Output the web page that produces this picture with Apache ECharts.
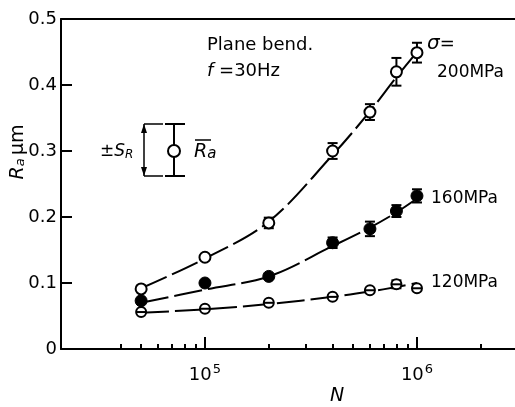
<!DOCTYPE html>
<html>
<head>
<meta charset="utf-8">
<script src="https://cdn.jsdelivr.net/npm/echarts@6/dist/echarts.min.js"></script>
<style>
  html, body { margin: 0; padding: 0; background: #fff; }
  #chart { width: 515px; height: 407px; }
</style>
</head>
<body>
<div id="chart"></div>
<script>
// cycles N of the measured points
const cycles = [5e4, 1e5, 2e5, 4e5, 6e5, 8e5, 1e6];
// mean Ra (um) and scatter +-S_R
const ra200 = [0.091, 0.139, 0.191, 0.300, 0.359, 0.420, 0.449];
const sd200 = [0, 0, 0.008, 0.012, 0.012, 0.021, 0.015];
const ra160 = [0.073, 0.100, 0.110, 0.161, 0.182, 0.209, 0.232];
const sd160 = [0, 0, 0, 0.008, 0.011, 0.009, 0.010];
const ra120 = [0.056, 0.061, 0.070, 0.079, 0.089, 0.098, 0.092];
const sd120 = [0, 0, 0, 0, 0, 0.006, 0];

// fitted curves as drawn on the figure
const fitN = [5e4, 1e5, 2e5, 4e5, 6e5, 8e5, 1e6];
const fit200 = [0.092, 0.137, 0.193, 0.294, 0.360, 0.412, 0.450];
const fit160 = [0.070, 0.090, 0.110, 0.156, 0.184, 0.207, 0.228];
const fit120 = [0.055, 0.060, 0.068, 0.079, 0.087, 0.094, 0.100];

const majorTicks = [1e5, 1e6];
const minorTicks = [4e4, 5e4, 6e4, 7e4, 8e4, 9e4, 2e5, 3e5, 4e5, 5e5, 6e5, 7e5, 8e5, 9e5, 2e6];

const FONT = 'DejaVu Sans';
const INK = '#000';

const myChart = echarts.init(document.getElementById('chart'), null, { renderer: 'canvas' });

function pairs(xs, ys) {
  return xs.map((x, i) => [x, ys[i]]);
}

function fitLine(data) {
  return {
    type: 'line',
    xAxisIndex: 0,
    data: pairs(fitN, data),
    smooth: 0.35,
    showSymbol: false,
    silent: true,
    z: 2,
    lineStyle: { color: INK, width: 2, type: [28, 6] }
  };
}

function errBars(ys, sds) {
  const d = cycles.map((x, i) => [x, ys[i], sds[i]]).filter(p => p[2] > 0);
  return {
    type: 'custom',
    xAxisIndex: 0,
    z: 3,
    silent: true,
    data: d,
    renderItem: function (params, api) {
      const top = api.coord([api.value(0), api.value(1) + api.value(2)]);
      const bot = api.coord([api.value(0), api.value(1) - api.value(2)]);
      const w = 5;
      const st = { stroke: INK, lineWidth: 2 };
      return {
        type: 'group',
        children: [
          { type: 'line', shape: { x1: top[0], y1: top[1], x2: bot[0], y2: bot[1] }, style: st },
          { type: 'line', shape: { x1: top[0] - w, y1: top[1], x2: top[0] + w, y2: top[1] }, style: st },
          { type: 'line', shape: { x1: bot[0] - w, y1: bot[1], x2: bot[0] + w, y2: bot[1] }, style: st }
        ]
      };
    }
  };
}

const option = {
  backgroundColor: '#fff',
  animation: false,
  grid: { left: 61, right: 0, top: 19, bottom: 58 },
  xAxis: [
    {
      type: 'log',
      logBase: 10,
      min: 20940,
      max: 2.9e6,
      axisLine: { show: true, lineStyle: { color: INK, width: 2 } },
      axisTick: { show: true, inside: true, length: 12, customValues: majorTicks, lineStyle: { color: INK, width: 2 } },
      axisLabel: {
        show: true,
        customValues: majorTicks,
        margin: 14,
        formatter: function (v) {
          return '{b|10}{s|' + Math.round(Math.log10(v)) + '}';
        },
        rich: {
          b: { fontFamily: FONT, fontSize: 18, color: INK },
          s: { fontFamily: FONT, fontSize: 13, color: INK, padding: [0, 0, 12, 1] }
        }
      },
      splitLine: { show: false },
      minorTick: { show: false },
      minorSplitLine: { show: false }
    },
    {
      type: 'log',
      logBase: 10,
      min: 20940,
      max: 2.9e6,
      position: 'bottom',
      axisLine: { show: false },
      axisTick: { show: true, inside: true, length: 5, customValues: minorTicks, lineStyle: { color: INK, width: 2 } },
      axisLabel: { show: false },
      splitLine: { show: false }
    },
    {
      type: 'log',
      logBase: 10,
      min: 20940,
      max: 2.9e6,
      position: 'top',
      axisLine: { show: true, lineStyle: { color: INK, width: 2 } },
      axisTick: { show: false },
      axisLabel: { show: false },
      splitLine: { show: false }
    }
  ],
  yAxis: {
    type: 'value',
    min: 0,
    max: 0.5,
    interval: 0.1,
    axisLine: { show: true, lineStyle: { color: INK, width: 2 } },
    axisTick: { show: true, inside: true, length: 11, lineStyle: { color: INK, width: 2 } },
    axisLabel: {
      margin: 4,
      fontFamily: FONT,
      fontSize: 18,
      color: INK,
      formatter: function (v) { return v === 0 ? '0' : v.toFixed(1); }
    },
    splitLine: { show: false }
  },
  series: [
    fitLine(fit200),
    fitLine(fit160),
    fitLine(fit120),
    errBars(ra200, sd200),
    errBars(ra160, sd160),
    errBars(ra120, sd120),
    {
      type: 'scatter',
      name: '200MPa',
      data: pairs(cycles, ra200),
      symbol: 'circle',
      symbolSize: 11,
      z: 5,
      itemStyle: { color: '#fff', borderColor: INK, borderWidth: 2, opacity: 1 }
    },
    {
      type: 'scatter',
      name: '160MPa',
      data: pairs(cycles, ra160),
      symbol: 'circle',
      symbolSize: 12,
      z: 5,
      itemStyle: { color: INK, borderColor: INK, borderWidth: 1, opacity: 1 }
    },
    {
      // open circle with a bar through it
      type: 'custom',
      name: '120MPa',
      xAxisIndex: 0,
      z: 5,
      silent: true,
      data: pairs(cycles, ra120),
      renderItem: function (params, api) {
        const p = api.coord([api.value(0), api.value(1)]);
        const r = 5;
        return {
          type: 'group',
          children: [
            { type: 'circle', shape: { cx: p[0], cy: p[1], r: r }, style: { fill: '#fff', stroke: INK, lineWidth: 2 } },
            { type: 'line', shape: { x1: p[0] - r, y1: p[1], x2: p[0] + r, y2: p[1] }, style: { stroke: INK, lineWidth: 2 } }
          ]
        };
      }
    }
  ],
  graphic: [
    // axis titles
    {
      type: 'text', x: 18, y: 152, rotation: Math.PI / 2, z: 10,
      style: {
        text: '{i|R}{sub|a} {n|\u03bcm}',
        align: 'center', verticalAlign: 'middle',
        rich: {
          i: { fontFamily: FONT, fontSize: 19, fontStyle: 'italic', fill: INK },
          sub: { fontFamily: FONT, fontSize: 13, fontStyle: 'italic', fill: INK, padding: [6, 0, 0, 0] },
          n: { fontFamily: FONT, fontSize: 19, fill: INK }
        }
      }
    },
    {
      type: 'text', x: 337, y: 396, z: 10,
      style: { text: 'N', font: 'italic 19px "DejaVu Sans"', fill: INK, align: 'center', verticalAlign: 'middle' }
    },
    // test conditions
    {
      type: 'text', x: 207, y: 45, z: 10,
      style: { text: 'Plane bend.', font: '18px "DejaVu Sans"', fill: INK, verticalAlign: 'middle' }
    },
    {
      type: 'text', x: 207, y: 71, z: 10,
      style: {
        text: '{i|f} =30Hz', verticalAlign: 'middle',
        rich: {
          i: { fontFamily: FONT, fontSize: 18, fontStyle: 'italic', fill: INK },
        },
        font: '18px "DejaVu Sans"', fill: INK
      }
    },
    // stress level labels
    {
      type: 'text', x: 427, y: 44, z: 10,
      style: {
        text: '{i|\u03c3}=', verticalAlign: 'middle', font: '18px "DejaVu Sans"', fill: INK,
        rich: { i: { fontFamily: FONT, fontSize: 20, fontStyle: 'italic', fill: INK } }
      }
    },
    {
      type: 'text', x: 437, y: 73, z: 10,
      style: { text: '200MPa', font: '17px "DejaVu Sans"', fill: INK, verticalAlign: 'middle' }
    },
    {
      type: 'text', x: 431, y: 199, z: 10,
      style: { text: '160MPa', font: '17px "DejaVu Sans"', fill: INK, verticalAlign: 'middle' }
    },
    {
      type: 'text', x: 431, y: 283, z: 10,
      style: { text: '120MPa', font: '17px "DejaVu Sans"', fill: INK, verticalAlign: 'middle' }
    },
    // key for the error bar symbol
    {
      type: 'text', x: 100, y: 152, z: 10,
      style: {
        text: '\u00b1{i|S}{sub|R}', verticalAlign: 'middle', font: '17px "DejaVu Sans"', fill: INK,
        rich: {
          i: { fontFamily: FONT, fontSize: 17, fontStyle: 'italic', fill: INK },
          sub: { fontFamily: FONT, fontSize: 12, fontStyle: 'italic', fill: INK, padding: [6, 0, 0, 0] }
        }
      }
    },
    { type: 'line', z: 10, shape: { x1: 144, y1: 124, x2: 144, y2: 176 }, style: { stroke: INK, lineWidth: 1.5 } },
    { type: 'polygon', z: 10, shape: { points: [[144, 124], [141, 133], [147, 133]] }, style: { fill: INK } },
    { type: 'polygon', z: 10, shape: { points: [[144, 176], [141, 167], [147, 167]] }, style: { fill: INK } },
    { type: 'line', z: 10, shape: { x1: 144, y1: 124, x2: 163, y2: 124 }, style: { stroke: INK, lineWidth: 1.5 } },
    { type: 'line', z: 10, shape: { x1: 144, y1: 176, x2: 163, y2: 176 }, style: { stroke: INK, lineWidth: 1.5 } },
    { type: 'line', z: 10, shape: { x1: 174, y1: 124, x2: 174, y2: 176 }, style: { stroke: INK, lineWidth: 2 } },
    { type: 'line', z: 10, shape: { x1: 165, y1: 124, x2: 185, y2: 124 }, style: { stroke: INK, lineWidth: 2 } },
    { type: 'line', z: 10, shape: { x1: 165, y1: 176, x2: 185, y2: 176 }, style: { stroke: INK, lineWidth: 2 } },
    { type: 'circle', z: 11, shape: { cx: 174, cy: 151, r: 6 }, style: { fill: '#fff', stroke: INK, lineWidth: 2 } },
    {
      type: 'text', x: 194, y: 152, z: 10,
      style: {
        text: '{i|R}{sub|a}', verticalAlign: 'middle',
        rich: {
          i: { fontFamily: FONT, fontSize: 19, fontStyle: 'italic', fill: INK },
          sub: { fontFamily: FONT, fontSize: 15, fontStyle: 'italic', fill: INK, padding: [4, 0, 0, 0] }
        }
      }
    },
    { type: 'line', z: 10, shape: { x1: 195, y1: 140, x2: 211, y2: 140 }, style: { stroke: INK, lineWidth: 1.5 } }
  ]
};

myChart.setOption(option);
</script>
</body>
</html>
